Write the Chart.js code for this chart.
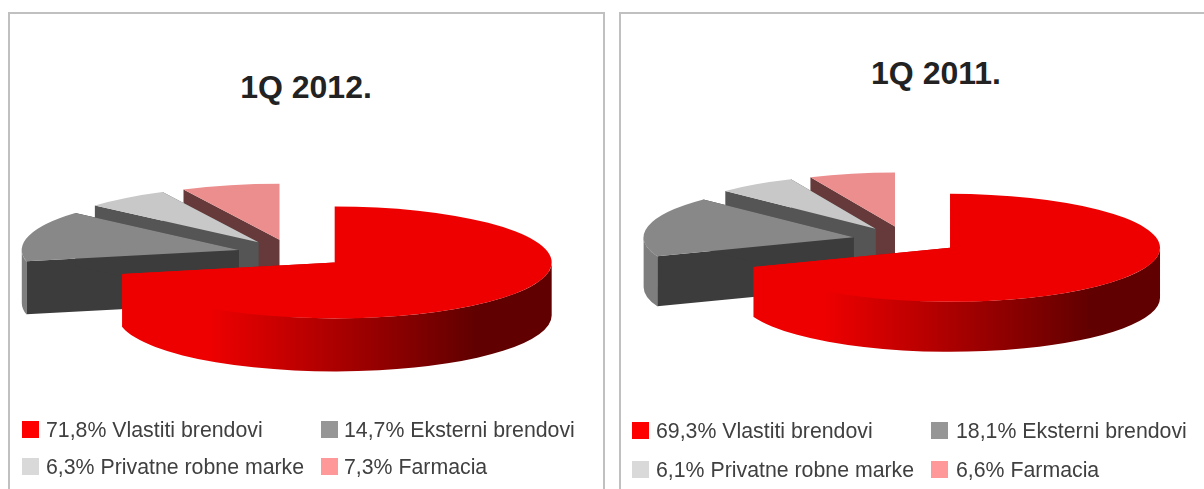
<!DOCTYPE html>
<html>
<head>
<meta charset="utf-8">
<title>1Q 2012. / 1Q 2011.</title>
<script src="https://cdn.jsdelivr.net/npm/chart.js@4/dist/chart.umd.min.js"></script>
<style>
  html, body { margin: 0; padding: 0; background: #fff; overflow: hidden; }
  body { position: relative; width: 1204px; height: 489px; font-family: "Liberation Sans", Arial, sans-serif; }
  canvas { position: absolute; top: 0; }
  .panel { position: absolute; top: 12px; height: 490px; border: 2px solid #c0c0c0; box-sizing: border-box; }
  .title { position: absolute; font-size: 32px; font-weight: bold; color: #222222; transform: translate(-50%, -50%); white-space: nowrap; }
  .key { position: absolute; width: 17px; height: 17px; }
  .lbl { position: absolute; font-size: 21.3px; color: #404040; white-space: nowrap; transform: translateY(-50%); }
</style>
</head>
<body>
<div class="panel" style="left:8px;width:597px"></div>
<div class="panel" style="left:619px;width:600px"></div>
<div class="title" style="left:306px;top:87px">1Q 2012.</div>
<div class="title" style="left:936px;top:73px">1Q 2011.</div>
<canvas id="pie-2012" width="600" height="489" style="left:0;width:600px;height:489px"></canvas>
<canvas id="pie-2011" width="584" height="489" style="left:620px;width:584px;height:489px"></canvas>
<div id="legends"></div>
<script>
/* 1Q 2012 / 1Q 2011 prodaja po segmentu, 3D pie */
const categories = ["Vlastiti brendovi", "Eksterni brendovi", "Privatne robne marke", "Farmacia"];
const values2012 = [71.8, 14.7, 6.3, 7.3];
const values2011 = [69.3, 18.1, 6.1, 6.6];

const topColors = ["#ee0000", "#888888", "#c8c8c8", "#ec8e8e"];
const faceColors = [null, "#3c3c3c", "#555555", "#663a3a"];
const wallColors = [null, "#7e7e7e", "#555555", "#663a3a"];
const keyColors = ["#ff0000", "#969696", "#d9d9d9", "#ff9999"];

// tilt = ry/rx of the ellipse, depth = height of the extrusion, explode = slice pull-out
const pie3d = {
  id: "pie3d",
  beforeDatasetDraw(chart, args, opts) {
    const ctx = chart.ctx;
    const arcs = args.meta.data;
    const { tilt, depth, explode } = opts;
    for (let i = arcs.length - 1; i >= 0; i--) {
      const arc = arcs[i];
      const mid = (arc.startAngle + arc.endAngle) / 2;
      const ex = Math.cos(mid) * explode;
      const ey = Math.sin(mid) * explode * tilt;
      const cx = arc.x + ex;
      const cy = arc.y + ey;
      const r = arc.outerRadius;

      let face = faceColors[i];
      let wall = wallColors[i];
      if (i === 0) {
        // red wall goes dark towards the right
        const g = ctx.createLinearGradient(cx - 125, 0, cx + 142, 0);
        g.addColorStop(0, "#ee0000");
        g.addColorStop(1, "#600000");
        face = g;
        wall = g;
      }

      ctx.fillStyle = face;
      [arc.startAngle, arc.endAngle].forEach((a) => {
        const px = cx + Math.cos(a) * r;
        const py = cy + Math.sin(a) * r * tilt;
        ctx.beginPath();
        ctx.moveTo(cx, cy);
        ctx.lineTo(px, py);
        ctx.lineTo(px, py + depth);
        ctx.lineTo(cx, cy + depth);
        ctx.closePath();
        ctx.fill();
      });

      const lo = Math.max(arc.startAngle, 0);
      const hi = Math.min(arc.endAngle, Math.PI);
      if (lo < hi) {
        ctx.fillStyle = wall;
        ctx.beginPath();
        ctx.ellipse(cx, cy, r, r * tilt, 0, lo, hi);
        ctx.ellipse(cx, cy + depth, r, r * tilt, 0, hi, lo, true);
        ctx.closePath();
        ctx.fill();
      }

      ctx.save();
      ctx.translate(cx, cy);
      ctx.scale(1, tilt);
      ctx.translate(-arc.x, -arc.y);
      arc.draw(ctx);
      ctx.restore();
    }
    return false;
  },
};

function makePie(id, values, radius, padding, shape) {
  return new Chart(document.getElementById(id), {
    type: "pie",
    plugins: [pie3d],
    data: {
      labels: categories,
      datasets: [{ data: values, backgroundColor: topColors, borderWidth: 0, radius: radius }],
    },
    options: {
      responsive: false,
      animation: false,
      layout: { padding: padding },
      plugins: { legend: { display: false }, tooltip: { enabled: false }, pie3d: shape },
    },
  });
}

function makeLegend(values, xs, textXs, ys) {
  const box = document.getElementById("legends");
  values.forEach((v, i) => {
    const col = i % 2;
    const row = Math.floor(i / 2);
    const key = document.createElement("div");
    key.className = "key";
    key.style.cssText = `left:${xs[col]}px;top:${ys[row] - 9}px;background:${keyColors[i]}`;
    box.appendChild(key);
    const lbl = document.createElement("div");
    lbl.className = "lbl";
    lbl.style.cssText = `left:${textXs[col]}px;top:${ys[row]}px`;
    lbl.textContent = `${v.toFixed(1).replace(".", ",")}% ${categories[i]}`;
    box.appendChild(lbl);
  });
}

makePie("pie-2012", values2012, 217, { top: 18, right: 16 }, { tilt: 0.258, depth: 53, explode: 55 });
makePie("pie-2011", values2011, 210, { bottom: 9, right: 12 }, { tilt: 0.257, depth: 50, explode: 53.5 });
makeLegend(values2012, [22, 321], [46, 344], [430, 467]);
makeLegend(values2011, [632, 931], [656, 956], [431, 470]);
</script>
</body>
</html>
